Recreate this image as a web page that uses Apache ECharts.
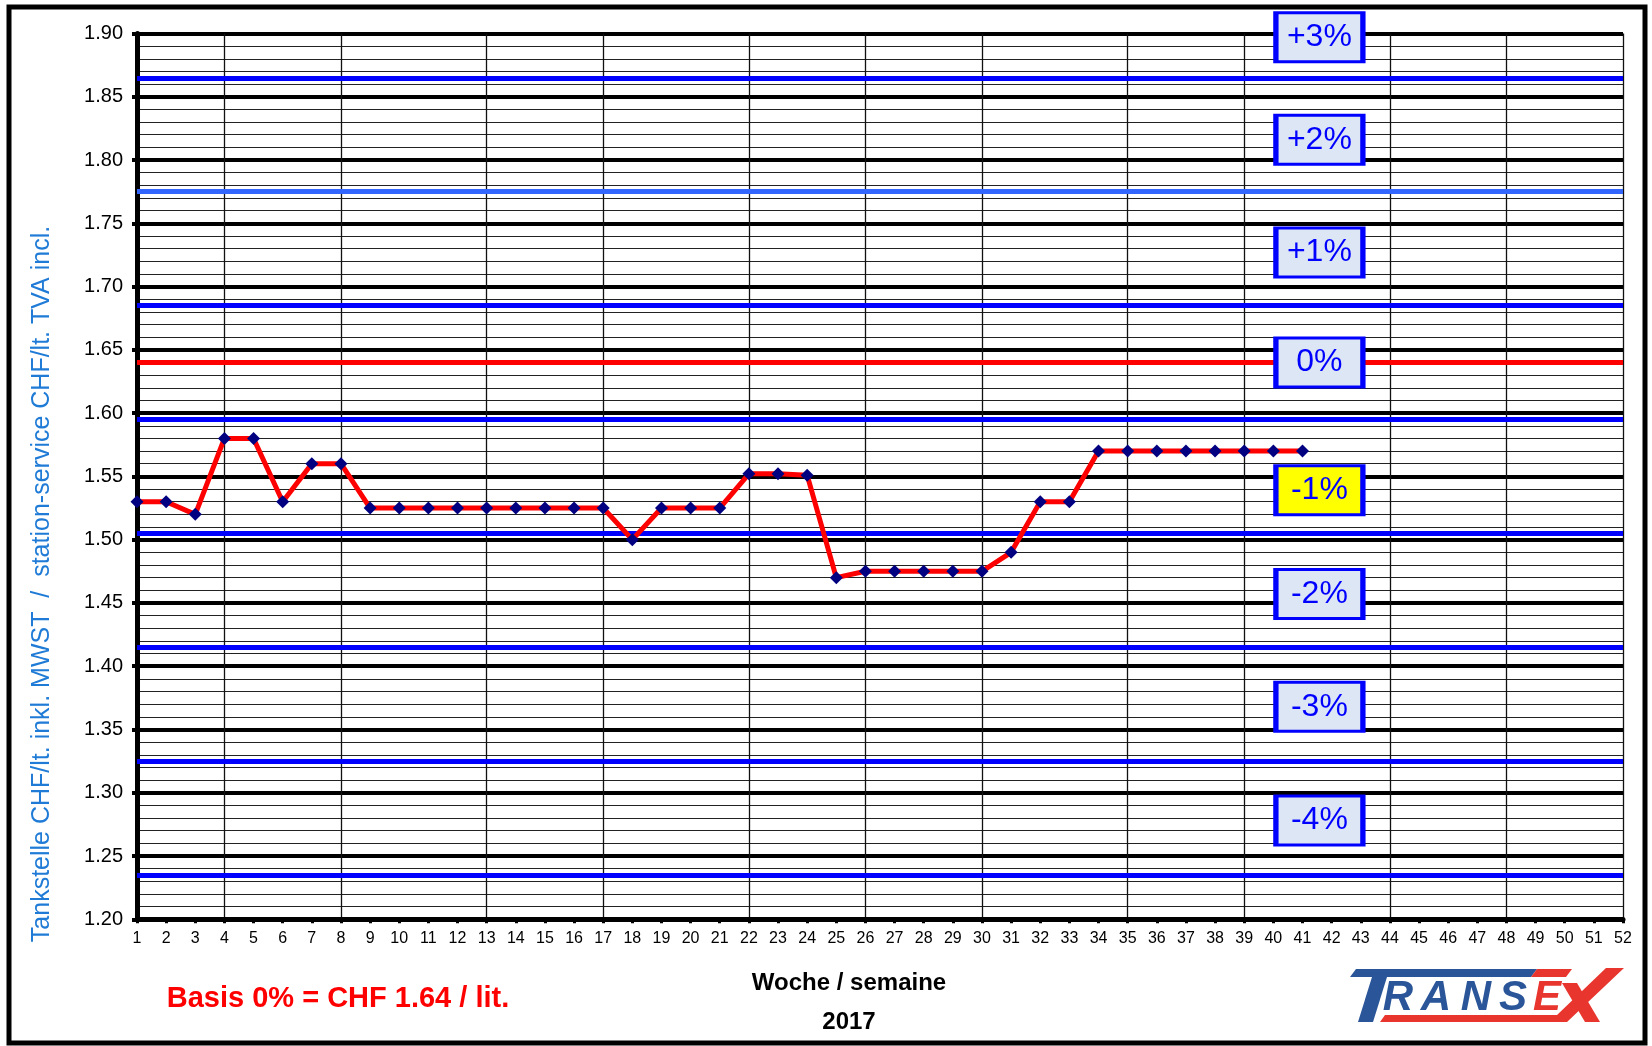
<!DOCTYPE html>
<html>
<head>
<meta charset="utf-8">
<title>Benzinpreis 2017</title>
<script src="https://cdn.jsdelivr.net/npm/echarts@6/dist/echarts.min.js"></script>
<style>
  html, body { margin: 0; padding: 0; background: #fff; }
  #chart { width: 1652px; height: 1046px; }
</style>
</head>
<body>
<div id="chart"></div>
<script>
// Kalenderwochen (x-Achse)
const weeks = ['1','2','3','4','5','6','7','8','9','10','11','12','13','14','15','16','17','18','19','20',
  '21','22','23','24','25','26','27','28','29','30','31','32','33','34','35','36','37','38','39','40',
  '41','42','43','44','45','46','47','48','49','50','51','52']
// erste Woche jedes Monats -> vertikale Linien
const monthWeeks = [4, 8, 13, 17, 22, 26, 30, 35, 39, 44, 48, 52]

// Preis CHF/lt. pro Woche (KW 1 - 41)
const price = [1.53, 1.53, 1.52, 1.58, 1.58, 1.53, 1.56, 1.56,
  1.525, 1.525, 1.525, 1.525, 1.525, 1.525, 1.525, 1.525, 1.525,
  1.50, 1.525, 1.525, 1.525, 1.552, 1.552, 1.551, 1.47,
  1.475, 1.475, 1.475, 1.475, 1.475, 1.49, 1.53, 1.53,
  1.57, 1.57, 1.57, 1.57, 1.57, 1.57, 1.57, 1.57]

// Basis 0% und Bandgrenzen
const baseLevel = 1.64
const bandLevels = [1.865, 1.775, 1.685, 1.595, 1.505, 1.415, 1.325, 1.235]
const bandColors = ['#0000ff', '#3366ff', '#0000ff', '#0000ff', '#0000ff', '#0000ff', '#0000ff', '#0000ff']

// Prozent-Kaestchen
const boxLabels = ['+3%', '+2%', '+1%', '0%', '-1%', '-2%', '-3%', '-4%']
const boxValues = [1.897, 1.816, 1.727, 1.640, 1.539, 1.457, 1.368, 1.278]
const boxWeek = 41.58

const chart = echarts.init(document.getElementById('chart'))

const bandLines = bandLevels.map((v, i) => ({
  yAxis: v,
  lineStyle: { color: bandColors[i], width: 5, type: 'solid' }
}))
bandLines.push({ yAxis: baseLevel, lineStyle: { color: '#ff0000', width: 5, type: 'solid' } })

const boxes = boxLabels.map((t, i) => ({
  value: [boxWeek, boxValues[i]],
  name: t,
  itemStyle: { color: t === '-1%' ? '#ffff00' : '#dce6f4' }
}))

const blue = '#2a5599'
const red = '#e8352d'
const logoFont = 'italic bold 42px Arial'

chart.setOption({
  animation: false,
  backgroundColor: '#fff',
  textStyle: { fontFamily: 'Arial, "Liberation Sans", sans-serif' },
  grid: {
    left: 137,
    right: 29,
    top: 33.5,
    bottom: 126.7,
    containLabel: false
  },
  xAxis: [{
    type: 'category',
    data: weeks,
    boundaryGap: false,
    axisLine: { lineStyle: { color: '#000', width: 5 } },
    axisTick: { show: true, interval: 0, length: 4, lineStyle: { color: '#000', width: 3 } },
    axisLabel: { interval: 0, color: '#000', fontSize: 16, margin: 11 },
    splitLine: {
      show: true,
      interval: function (index, value) {
        return monthWeeks.indexOf(Number(value)) >= 0
      },
      lineStyle: { color: '#111', width: 1.3 }
    }
  }, {
    type: 'value',
    min: 1,
    max: 52,
    show: false
  }],
  yAxis: {
    type: 'value',
    min: 1.2,
    max: 1.9,
    interval: 0.05,
    axisLine: { show: true, lineStyle: { color: '#000', width: 5 } },
    axisTick: { show: true, length: 5, lineStyle: { color: '#000', width: 4 } },
    axisLabel: {
      color: '#000',
      fontSize: 20,
      margin: 14,
      formatter: v => v.toFixed(2)
    },
    splitLine: { show: true, lineStyle: { color: '#000', width: 4 } },
    minorTick: { show: false, splitNumber: 5 },
    minorSplitLine: { show: true, lineStyle: { color: '#222', width: 1.2 } }
  },
  series: [{
    name: 'Preis',
    type: 'line',
    data: price,
    z: 4,
    symbol: 'diamond',
    symbolSize: 13,
    itemStyle: { color: '#000080' },
    lineStyle: { color: '#ff0000', width: 5 },
    markLine: {
      z: 3,
      silent: true,
      precision: 3,
      symbol: ['none', 'none'],
      label: { show: false },
      data: bandLines
    }
  }, {
    name: 'Prozent',
    type: 'scatter',
    xAxisIndex: 1,
    z: 6,
    clip: false,
    silent: true,
    symbol: 'rect',
    symbolSize: [87, 49],
    itemStyle: { borderColor: '#0000ff', borderWidth: 4, opacity: 1 },
    label: {
      show: true,
      position: 'inside',
      formatter: p => p.name,
      color: '#0000ff',
      fontSize: 32
    },
    data: boxes
  }],
  graphic: [
    // Rahmen
    { type: 'rect', shape: { x: 9, y: 7, width: 1636, height: 1036 }, style: { fill: null, stroke: '#000', lineWidth: 5 }, silent: true },
    {
      type: 'text', x: 42, y: 584, rotation: Math.PI / 2,
      style: {
        text: 'Tankstelle CHF/lt. inkl. MWST  /  station-service CHF/lt. TVA incl.',
        fill: '#1f7bd6', font: '25px Arial', align: 'center', verticalAlign: 'middle'
      }
    },
    {
      type: 'text', x: 849, y: 983,
      style: { text: 'Woche / semaine', fill: '#000', font: 'bold 24px Arial', align: 'center', verticalAlign: 'middle' }
    },
    {
      type: 'text', x: 849, y: 1022,
      style: { text: '2017', fill: '#000', font: 'bold 24px Arial', align: 'center', verticalAlign: 'middle' }
    },
    {
      type: 'text', x: 338, y: 999,
      style: { text: 'Basis 0% = CHF 1.64 / lit.', fill: '#ff0000', font: 'bold 29px Arial', align: 'center', verticalAlign: 'middle' }
    },
    // Logo TRANSEX
    { type: 'polygon', shape: { points: [[1350, 977], [1356, 969], [1537, 969], [1531, 977]] }, style: { fill: blue } },
    { type: 'polygon', shape: { points: [[1372, 977], [1387, 977], [1373, 1022], [1358, 1022]] }, style: { fill: blue } },
    { type: 'text', x: 1398, y: 998, style: { text: 'R', fill: blue, font: logoFont, align: 'center', verticalAlign: 'middle' } },
    { type: 'text', x: 1436, y: 998, style: { text: 'A', fill: blue, font: logoFont, align: 'center', verticalAlign: 'middle' } },
    { type: 'text', x: 1476, y: 998, style: { text: 'N', fill: blue, font: logoFont, align: 'center', verticalAlign: 'middle' } },
    { type: 'text', x: 1513, y: 998, style: { text: 'S', fill: blue, font: logoFont, align: 'center', verticalAlign: 'middle' } },
    { type: 'text', x: 1547, y: 998, style: { text: 'E', fill: red, font: logoFont, align: 'center', verticalAlign: 'middle' } },
    { type: 'polygon', shape: { points: [[1537, 969], [1572, 969], [1566, 977], [1531, 977]] }, style: { fill: red } },
    { type: 'polygon', shape: { points: [[1562, 983], [1577, 983], [1600, 1022], [1585, 1022]] }, style: { fill: red } },
    { type: 'polygon', shape: { points: [[1385, 1015], [1557, 1015], [1606, 968], [1624, 968], [1567, 1022], [1380, 1022]] }, style: { fill: red } }
  ]
})
</script>
</body>
</html>
